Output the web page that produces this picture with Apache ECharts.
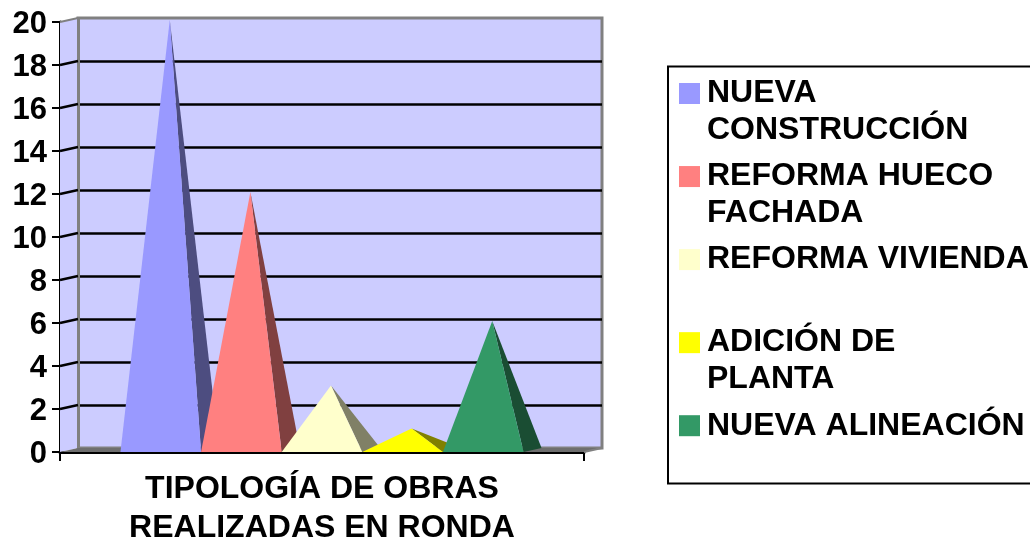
<!DOCTYPE html>
<html>
<head>
<meta charset="utf-8">
<style>html,body{margin:0;padding:0;background:#fff;overflow:hidden}#c{width:1030px;height:540px}</style>
<script src="https://cdn.jsdelivr.net/npm/echarts@6/dist/echarts.min.js"></script>
</head>
<body>
<div id="c"></div>
<script>
const categories = ['TIPOLOGÍA DE OBRAS\nREALIZADAS EN RONDA'];
const seriesNames = ['NUEVA CONSTRUCCIÓN', 'REFORMA HUECO FACHADA', 'REFORMA VIVIENDA', 'ADICIÓN DE PLANTA', 'NUEVA ALINEACIÓN'];
const legendLabels = ['NUEVA\nCONSTRUCCIÓN', 'REFORMA HUECO\nFACHADA', 'REFORMA VIVIENDA\n ', 'ADICIÓN DE\nPLANTA', 'NUEVA ALINEACIÓN\n '];
const seriesValues = [20, 12, 3, 1, 6];
const frontColors = ['#9999ff', '#ff8080', '#ffffcc', '#ffff00', '#339966'];
const sideColors = ['#4d4d80', '#804040', '#808066', '#808000', '#1a4d33'];
const yTicks = [0, 2, 4, 6, 8, 10, 12, 14, 16, 18, 20];

const FONT = '"Liberation Sans", Arial, sans-serif';
const DX = 18, DY = -4;
const GAP = 1.5;

function pyramid(idx) {
  return function (params, api) {
    const band = api.size([1, 0])[0];
    const w = band / (seriesNames.length + GAP);
    const base = api.coord([api.value(0), 0]);
    const top = api.coord([api.value(0), api.value(1)]);
    const x0 = base[0] - band / 2 + (GAP / 2 + idx) * w;
    const x1 = x0 + w;
    const apex = [(x0 + x1) / 2 + DX / 2, top[1] + DY / 2];
    return {
      type: 'group',
      children: [
        { type: 'polygon', shape: { points: [apex, [x1, base[1]], [x1 + DX, base[1] + DY]] }, style: { fill: sideColors[idx] } },
        { type: 'polygon', shape: { points: [[x0, base[1]], [x1, base[1]], apex] }, style: { fill: frontColors[idx] } }
      ]
    };
  };
}

function wallSide(params, api) {
  const b = api.coord([0, 0]);
  const t = api.coord([0, 20]);
  const band = api.size([1, 0])[0];
  const l = b[0] - band / 2, r = b[0] + band / 2;
  const children = [
    { type: 'polygon', shape: { points: [[l, b[1]], [l + DX, b[1] + DY], [l + DX, t[1] + DY], [l, t[1]]] }, style: { fill: '#ccccff' } },
    { type: 'polygon', shape: { points: [[l, b[1]], [l + DX, b[1] + DY], [r + DX, b[1] + DY], [r, b[1]]] }, style: { fill: '#6e6e6e' } },
    { type: 'line', shape: { x1: l + DX + 0.5, y1: t[1] + DY, x2: l + DX + 0.5, y2: b[1] + DY }, style: { stroke: '#808080', lineWidth: 3 } },
    { type: 'line', shape: { x1: l, y1: t[1], x2: l + DX, y2: t[1] + DY }, style: { stroke: '#808080', lineWidth: 2 } },
    { type: 'line', shape: { x1: r, y1: b[1], x2: r + DX, y2: b[1] + DY }, style: { stroke: '#808080', lineWidth: 2 } }
  ];
  yTicks.forEach(v => {
    if (v === 0 || v === 20) return;
    const p = api.coord([0, v]);
    children.push({ type: 'line', shape: { x1: l, y1: p[1], x2: l + DX, y2: p[1] + DY }, style: { stroke: '#000', lineWidth: 2.5 } });
  });
  return { type: 'group', children };
}

const chart = echarts.init(document.getElementById('c'), null, { renderer: 'canvas' });
chart.setOption({
  animation: false,
  backgroundColor: '#fff',
  color: frontColors,
  textStyle: { fontFamily: FONT },
  graphic: [{
    type: 'rect', z: 0, silent: true,
    shape: { x: 668, y: 66.5, width: 400, height: 417 },
    style: { fill: '#fff', stroke: '#000', lineWidth: 2 }
  }],
  legend: {
    orient: 'vertical', left: 679, top: 37, padding: 0,
    itemWidth: 21, itemHeight: 21, itemGap: -29.95, icon: 'rect',
    data: seriesNames,
    selectedMode: false,
    textStyle: { fontFamily: FONT, fontWeight: 'bold', fontSize: 32, lineHeight: 37, color: '#000', padding: [2, 0, 0, 2] },
    formatter: name => ' \n' + legendLabels[seriesNames.indexOf(name)]
  },
  grid: [
    { left: 60, top: 22, width: 524, height: 430, containLabel: false, outerBoundsMode: 'none' },
    { left: 78, top: 18, width: 524, height: 430, show: true, backgroundColor: '#ccccff', borderColor: '#808080', borderWidth: 3, outerBoundsMode: 'none' }
  ],
  xAxis: [
    {
      type: 'category', gridIndex: 0, data: categories,
      axisLine: { lineStyle: { color: '#000', width: 3 } },
      axisTick: { show: true, length: 9, alignWithLabel: false, lineStyle: { color: '#000', width: 2 } },
      axisLabel: { color: '#000', fontFamily: FONT, fontWeight: 'bold', fontSize: 32, lineHeight: 39, margin: 18, interval: 0 }
    },
    { type: 'category', gridIndex: 1, data: categories, show: false }
  ],
  yAxis: [
    {
      type: 'value', gridIndex: 0, min: 0, max: 20, interval: 2,
      splitLine: { show: false },
      axisLine: { show: true, lineStyle: { color: '#000', width: 3 } },
      axisTick: { show: true, length: 8, lineStyle: { color: '#000', width: 2 } },
      axisLabel: { color: '#000', fontFamily: FONT, fontWeight: 'bold', fontSize: 31, margin: 13, verticalAlign: 'top', padding: [-13, 0, 0, 0] }
    },
    {
      type: 'value', gridIndex: 1, min: 0, max: 20, interval: 2,
      axisLine: { show: false }, axisTick: { show: false }, axisLabel: { show: false },
      splitLine: { show: true, showMinLine: false, showMaxLine: false, lineStyle: { color: '#000', width: 2.5 } }
    }
  ],
  series: [
    {
      name: 'paredes', type: 'custom', xAxisIndex: 0, yAxisIndex: 0, z: 1, silent: true,
      data: [[0, 0]], renderItem: wallSide
    }
  ].concat(seriesNames.map((n, i) => ({
    name: n, type: 'custom', xAxisIndex: 0, yAxisIndex: 0, z: 2 + i,
    itemStyle: { color: frontColors[i] },
    data: [[0, seriesValues[i]]],
    encode: { x: 0, y: 1 },
    renderItem: pyramid(i)
  })))
});
</script>
</body>
</html>
